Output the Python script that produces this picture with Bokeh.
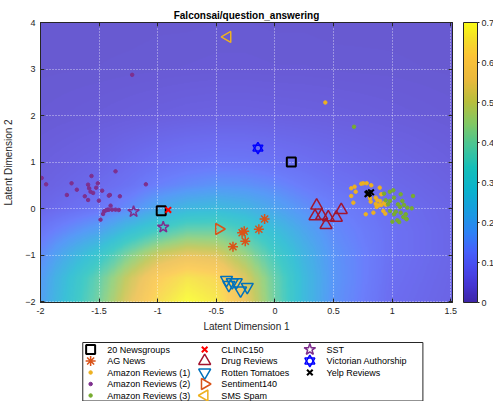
import numpy as np
from bokeh.plotting import figure
from bokeh.layouts import column
from bokeh.models import (LinearColorMapper, ColorBar, FixedTicker, LinearAxis, Range1d)
from bokeh.core.properties import value
from bokeh.embed import file_html
from bokeh.resources import INLINE

# ---------------- data ----------------
title_text = "Falconsai/question_answering"

heat_x = [-2.0, -1.5, -1.25, -1.0, -0.75, -0.5, -0.25, 0.0, 0.25, 0.5, 1.0, 1.5]
heat_y = [-2.0, -1.5, -1.0, -0.5, 0.0, 0.5, 1.0, 2.0, 3.0, 4.0]
heat_rows = [
    [0.19, 0.41, 0.54, 0.645, 0.70, 0.67, 0.555, 0.40, 0.26, 0.165, 0.085, 0.062],
    [0.18, 0.39, 0.51, 0.61, 0.66, 0.635, 0.53, 0.39, 0.26, 0.17, 0.09, 0.065],
    [0.15, 0.31, 0.42, 0.51, 0.55, 0.535, 0.45, 0.34, 0.24, 0.165, 0.095, 0.068],
    [0.11, 0.20, 0.28, 0.35, 0.40, 0.40, 0.35, 0.275, 0.205, 0.15, 0.095, 0.068],
    [0.07, 0.11, 0.15, 0.21, 0.25, 0.26, 0.24, 0.20, 0.16, 0.13, 0.088, 0.065],
    [0.055, 0.08, 0.10, 0.13, 0.15, 0.165, 0.16, 0.145, 0.12, 0.10, 0.075, 0.057],
    [0.048, 0.065, 0.08, 0.095, 0.105, 0.11, 0.108, 0.10, 0.09, 0.08, 0.064, 0.05],
    [0.036, 0.042, 0.046, 0.05, 0.054, 0.056, 0.056, 0.054, 0.052, 0.05, 0.044, 0.038],
    [0.032, 0.033, 0.034, 0.035, 0.036, 0.037, 0.037, 0.036, 0.036, 0.035, 0.034, 0.032],
    [0.030, 0.031, 0.031, 0.032, 0.032, 0.033, 0.033, 0.032, 0.032, 0.031, 0.031, 0.030],
]

ng20_x = [0.14, -0.97]
ng20_y = [1.00, -0.05]

agnews_x = [-0.088, -0.137, -0.262, -0.28, -0.253, -0.358]
agnews_y = [-0.226, -0.445, -0.488, -0.52, -0.703, -0.82]

amz1_x = [0.651, 0.680, 0.737, 0.754, 0.783, 0.822, 0.894, 0.689, 0.651, 0.669,
          0.811, 0.817, 0.860, 0.874, 0.897, 0.908, 0.868, 0.888, 0.908, 0.931,
          0.945, 0.925, 0.942, 0.840, 0.775, 0.80, 0.86, 0.43]
amz1_y = [0.435, 0.470, 0.534, 0.543, 0.543, 0.500, 0.449, 0.362, 0.270, 0.126,
          0.221, 0.148, 0.234, 0.178, 0.163, 0.307, 0.034, 0.070, 0.077, 0.120,
          0.083, -0.052, -0.110, -0.089, -0.123, 0.30, 0.10, 2.28]

amz2_x = [-1.99, -1.952, -1.735, -1.775, -1.690, -1.622, -1.594, -1.565, -1.585, -1.573,
          -1.551, -1.525, -1.511, -1.474, -1.594, -1.502, -1.360, -1.417, -1.408, -1.323,
          -1.101, -1.402, -1.428, -1.457, -1.440, -1.417, -1.389, -1.360, -1.332, -1.488,
          -1.466, -1.218]
amz2_y = [0.657, 0.521, 0.543, 0.292, 0.405, 0.264, 0.513, 0.700, 0.435, 0.362,
          0.335, 0.448, 0.543, 0.384, 0.184, 0.169, 0.800, 0.277, 0.292, 0.264,
          0.521, 0.062, -0.024, -0.058, -0.037, -0.024, -0.024, -0.024, -0.031, -0.239,
          -0.116, 2.875]

amz3_x = [1.010, 1.016, 1.073, 1.178, 0.982, 0.945, 0.965, 1.050, 1.087, 1.101,
          1.067, 1.130, 1.167, 1.031, 1.073, 1.116, 1.016, 1.095, 1.044, 1.124,
          1.002, 0.982, 0.931, 0.980, 1.06, 1.12, 0.675]
amz3_y = [0.393, 0.234, 0.306, 0.270, 0.163, 0.178, 0.091, 0.091, 0.163, 0.077,
          0.034, 0.019, 0.005, -0.067, -0.089, -0.123, -0.123, -0.181, -0.252, -0.230,
          -0.282, -0.052, 0.320, 0.360, -0.29, -0.22, 1.758]

clinc_x = [-0.91]
clinc_y = [-0.03]

drug_x = [0.356, 0.342, 0.399, 0.455, 0.436, 0.566, 0.524]
drug_y = [0.063, -0.166, -0.153, -0.188, -0.353, -0.030, -0.196]

rotten_x = [-0.413, -0.393, -0.364, -0.330, -0.293, -0.236]
rotten_y = [-1.534, -1.641, -1.583, -1.584, -1.763, -1.684]

sent140_x = [-0.478]
sent140_y = [-0.44]

sms_x = [-0.404]
sms_y = [3.69]

sst_x = [-1.206, -0.953]
sst_y = [-0.067, -0.40]

vict_x = [-0.145]
vict_y = [1.30]

yelp_x = [0.79, 0.80, 0.82]
yelp_y = [0.31, 0.33, 0.35]

legend_labels = ["20 Newsgroups", "AG News", "Amazon Reviews (1)", "Amazon Reviews (2)",
                 "Amazon Reviews (3)", "CLINC150", "Drug Reviews", "Rotten Tomatoes",
                 "Sentiment140", "SMS Spam", "SST", "Victorian Authorship", "Yelp Reviews"]

x_ticks = [-2, -1.5, -1, -0.5, 0, 0.5, 1, 1.5]
x_tick_labels = ["-2", "-1.5", "-1", "-0.5", "0", "0.5", "1", "1.5"]
y_ticks = [-2, -1, 0, 1, 2, 3, 4]
cb_ticks = [0, 0.1, 0.2, 0.3, 0.4, 0.5, 0.6, 0.7]
cb_tick_labels = ["0", "0.1", "0.2", "0.3", "0.4", "0.5", "0.6", "0.7"]

# ---------------- style ----------------
FONT = "Liberation Sans"
DARK = "#262626"
ORANGE = "#D95319"
YELLOW = "#EDB120"
PURPLE = "#7E2F8E"
GREEN = "#77AC30"
CRIMSON = "#A2142F"
BLUE = "#0072BD"

# marker style for each series (same order as legend_labels)
styles = [
    dict(marker="square", size=9, fill_color=None, line_color="black", line_width=2),
    dict(marker="asterisk", size=10, line_color=ORANGE, line_width=1.5),
    dict(marker="circle", size=3.5, fill_color=YELLOW, line_color=YELLOW),
    dict(marker="circle", size=3.5, fill_color=PURPLE, line_color=PURPLE),
    dict(marker="circle", size=3.5, fill_color=GREEN, line_color=GREEN),
    dict(marker="x", size=8, line_color="#FF0000", line_width=2),
    dict(marker="triangle", size=12, fill_color=None, line_color=CRIMSON, line_width=1.5),
    dict(marker="inverted_triangle", size=12, fill_color=None, line_color=BLUE, line_width=1.5),
    dict(marker="triangle", angle=-np.pi / 2, size=11, fill_color=None, line_color=ORANGE, line_width=1.5),
    dict(marker="triangle", angle=np.pi / 2, size=11, fill_color=None, line_color=YELLOW, line_width=1.5),
    dict(marker="star", size=12, fill_color=None, line_color=PURPLE, line_width=1.5),
    "hexagram",
    dict(marker="x", size=8, line_color="black", line_width=2),
]
hexa_parts = [dict(marker="triangle", size=10, fill_color=None, line_color="#0000FF", line_width=1.5),
              dict(marker="inverted_triangle", size=10, fill_color=None, line_color="#0000FF", line_width=1.5)]

series = [(ng20_x, ng20_y), (agnews_x, agnews_y), (amz1_x, amz1_y), (amz2_x, amz2_y),
          (amz3_x, amz3_y), (clinc_x, clinc_y), (drug_x, drug_y), (rotten_x, rotten_y),
          (sent140_x, sent140_y), (sms_x, sms_y), (sst_x, sst_y), (vict_x, vict_y),
          (yelp_x, yelp_y)]
draw_order = [2, 3, 4, 0, 1, 5, 6, 7, 8, 9, 10, 11, 12]

# parula-like palette (colour map anchors)
anch_t = [0.0, 0.06, 0.12, 0.18, 0.25, 0.32, 0.40, 0.48, 0.56, 0.64, 0.72, 0.80, 0.88, 0.94, 1.0]
anch_c = [(62, 38, 168), (69, 53, 210), (72, 73, 237), (70, 95, 251), (45, 130, 245),
          (25, 155, 225), (10, 178, 205), (20, 190, 185), (70, 197, 150), (130, 200, 100),
          (185, 190, 60), (235, 185, 60), (252, 195, 55), (245, 220, 40), (249, 251, 20)]
tt = np.linspace(0, 1, 256)
chan = [np.interp(tt, anch_t, [c[k] for c in anch_c]) for k in range(3)]
palette = ["#%02x%02x%02x" % (int(round(r)), int(round(g)), int(round(b)))
           for r, g, b in zip(*chan)]

X0, X1 = -2.0, 1.515
Y0, Y1 = -2.02, 4.0

p = figure(frame_width=412, frame_height=280,
           x_range=Range1d(X0, X1), y_range=Range1d(Y0, Y1),
           output_backend="svg", toolbar_location=None,
           min_border_left=33, min_border_right=41, min_border_top=15, min_border_bottom=35,
           title=title_text)
p.margin = (6, 0, 0, 0)
p.title.text_font = FONT
p.title.text_font_size = "10px"
p.title.text_font_style = "bold"
p.title.text_color = "#000000"
p.title.align = "center"
p.title.standoff = 3
p.title.offset = 0

mapper = LinearColorMapper(palette=palette, low=0.0, high=0.7)

# shading: display-resolution rendering of the read grid
xs = np.linspace(X0, X1, 352)
ys = np.linspace(Y0, Y1, 280)
Z = np.array(heat_rows)
tmp = np.array([np.interp(xs, heat_x, row) for row in Z])
img = np.array([np.interp(ys, heat_y, tmp[:, j]) for j in range(len(xs))]).T
r_img = p.image(image=[img], x=X0, y=Y0, dw=X1 - X0, dh=Y1 - Y0,
                color_mapper=mapper, global_alpha=0.8)
r_img.level = "image"

# grid
for g in (p.xgrid, p.ygrid):
    g.grid_line_color = "white"
    g.grid_line_alpha = 0.7
    g.grid_line_dash = "1 2"
    g.grid_line_width = 1
p.xgrid.ticker = FixedTicker(ticks=x_ticks)
p.ygrid.ticker = FixedTicker(ticks=y_ticks)

# axes
p.xaxis.ticker = FixedTicker(ticks=x_ticks)
p.xaxis.major_label_overrides = {t: s for t, s in zip(x_ticks, x_tick_labels)}
p.yaxis.ticker = FixedTicker(ticks=y_ticks)
p.xaxis.axis_label = "Latent Dimension 1"
p.yaxis.axis_label = "Latent Dimension 2"
for ax in (p.xaxis[0], p.yaxis[0]):
    ax.axis_label_text_font = FONT
    ax.axis_label_text_font_size = "10px"
    ax.axis_label_text_font_style = "normal"
    ax.axis_label_text_color = DARK
    ax.major_label_text_font = FONT
    ax.major_label_text_font_size = "9px"
    ax.major_label_text_color = DARK
    ax.axis_line_color = DARK
    ax.major_tick_line_color = DARK
    ax.major_tick_in = 4
    ax.major_tick_out = 0
    ax.minor_tick_line_color = None
    ax.major_label_standoff = 5
    ax.axis_label_standoff = 4
p.yaxis.axis_label_standoff = 8

for side, tk in (("above", x_ticks), ("right", y_ticks)):
    ax = LinearAxis(ticker=FixedTicker(ticks=tk), major_label_text_font_size="1px",
                    major_label_text_color=None,
                    major_label_standoff=0, major_tick_in=4, major_tick_out=0,
                    minor_tick_line_color=None, axis_line_color=DARK,
                    major_tick_line_color=DARK)
    p.add_layout(ax, side)
p.outline_line_color = DARK

# ---------------- marks ----------------
for i in draw_order:
    sx, sy = series[i]
    st = styles[i]
    if st == "hexagram":
        for part in hexa_parts:
            p.scatter(sx, sy, **part)
    else:
        p.scatter(sx, sy, **st)

# colour bar
cb = ColorBar(color_mapper=mapper, ticker=FixedTicker(ticks=cb_ticks),
              major_label_overrides={t: s for t, s in zip(cb_ticks, cb_tick_labels)},
              width=14, height=280, location=(423, 0), padding=0, margin=0,
              major_tick_in=0, major_tick_out=2, major_tick_line_color=DARK,
              bar_line_color=DARK, label_standoff=2,
              major_label_text_font=FONT, major_label_text_font_size="9px",
              major_label_text_color=DARK, background_fill_color=None,
              border_line_color=None)
p.add_layout(cb, "center")

# ---------------- legend (separate panel below, frame aligned with the plot) ----------------
LH = 64
q = figure(width=486, height=LH, x_range=Range1d(33, 445), y_range=Range1d(0, LH),
           x_axis_location=None, y_axis_location=None, min_border=0,
           output_backend="svg", toolbar_location=None)
q.grid.visible = False
q.outline_line_color = None
box_l, box_r, box_t, box_b = 76, 422, 59, 0.5
q.quad(left=[box_l], right=[box_r], top=[box_t], bottom=[box_b],
       fill_color="white", line_color=DARK, line_width=1)
col_glyph_x = [84, 200, 307]
text_gap = 17
row_pitch = 11.5
first_row_y = box_t - 7
for i, lab in enumerate(legend_labels):
    c, r = i // 5, i % 5
    gx = col_glyph_x[c]
    gy = first_row_y - r * row_pitch
    st = styles[i]
    if st == "hexagram":
        for part in hexa_parts:
            q.scatter([gx], [gy], **part)
    else:
        q.scatter([gx], [gy], **st)
    q.text([gx + text_gap], [gy], text=[lab], text_baseline="middle", text_align="left",
           text_font=value(FONT), text_font_size="9px", text_color="black")

open("out.html", "w").write(file_html(column(p, q, spacing=0), INLINE))
